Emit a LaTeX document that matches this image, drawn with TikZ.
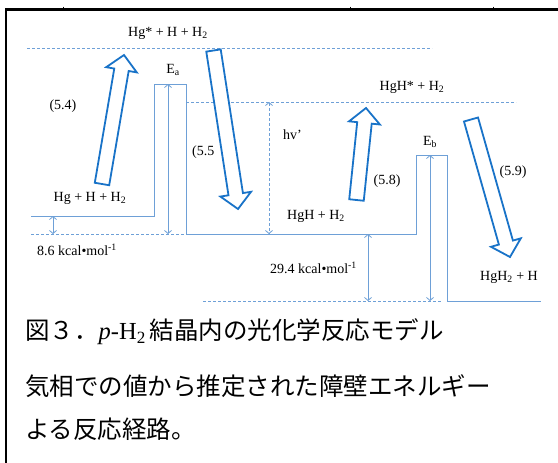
\documentclass[tikz,border=0pt]{standalone}
\usepackage{fontspec}
\setmainfont{Liberation Serif}
\newfontfamily\jpfont{Noto Sans CJK JP}
\usetikzlibrary{calc,arrows.meta}
\definecolor{thinblue}{RGB}{110,160,215}
\definecolor{arrblue}{RGB}{25,115,200}
\tikzset{
 lvl/.style={draw=thinblue, line width=0.9pt},
 dlvl/.style={draw=thinblue, line width=0.9pt, dash pattern=on 3pt off 2pt},
 dimar/.style={draw=thinblue, line width=0.8pt, {Straight Barb[length=3pt,width=7pt]}-{Straight Barb[length=3pt,width=7pt]}},
 blockar/.style={draw=arrblue, line width=1.8pt, line join=miter, fill=white},
 lab/.style={font=\fontsize{14}{16}\selectfont, inner sep=0pt},
 captext/.style={font=\jpfont\fontsize{24.5}{28}\selectfont, anchor=west, inner sep=0pt},
}
\newcommand\blockarr[2]{\draw[blockar] ($(#1)!7.3pt!90:(#2)$) -- ($(#2)!15pt!(#1)!7.3pt!-90:(#1)$) -- ($(#2)!15pt!(#1)!15.5pt!-90:(#1)$) -- (#2) -- ($(#2)!15pt!(#1)!15.5pt!90:(#1)$) -- ($(#2)!15pt!(#1)!7.3pt!90:(#1)$) -- ($(#1)!7.3pt!-90:(#2)$) -- cycle;}
\begin{document}
\begin{tikzpicture}[x=1pt,y=-1pt]
\useasboundingbox[fill=white] (0,0) rectangle (558,463);
% frame
\draw[line width=2.4pt] (6,463) -- (6,9.3) -- (558,9.3);
\foreach \tx in {63,350,493} \draw[line width=0.7pt] (\tx,6.5) -- (\tx,10);
% level coordinates
\coordinate (l0) at (31,216);
\coordinate (ea1) at (154,216);
\coordinate (ea2) at (154,84);
\coordinate (ea3) at (186,84);
\coordinate (ea4) at (186,234);
\coordinate (eb1) at (416,234);
\coordinate (eb2) at (416,155);
\coordinate (eb3) at (447,155);
\coordinate (eb4) at (447,301);
\coordinate (l5) at (541,301);
\draw[lvl] (l0) -- (ea1) -- (ea2) -- (ea3) -- (ea4) -- (eb1) -- (eb2) -- (eb3) -- (eb4) -- (l5);
% dashed levels
\coordinate (t1) at (27,48); \coordinate (t2) at (432,48);
\coordinate (s1) at (186,102); \coordinate (s2) at (516,102);
\coordinate (z1) at (31,234);
\coordinate (b1) at (203,301); \coordinate (b2) at (441,301);
\draw[dlvl] (t1) -- (t2);
\draw[dlvl] (s1) -- (s2);
\draw[dlvl] (z1) -- (ea4);
\draw[dlvl] (b1) -- (b2);
% dimension arrows
\coordinate (d1a) at (168,84); \coordinate (d1b) at (168,234);
\coordinate (d2a) at (53,216); \coordinate (d2b) at (53,234);
\coordinate (d3a) at (269,102); \coordinate (d3b) at (269,234);
\coordinate (d4a) at (368,234); \coordinate (d4b) at (368,301);
\coordinate (d5a) at (430,155); \coordinate (d5b) at (430,301);
\draw[dimar] (d1a) -- (d1b);
\draw[dimar] (d2a) -- (d2b);
\draw[dimar, dash pattern=on 3pt off 2pt] (d3a) -- (d3b);
\draw[dimar] (d4a) -- (d4b);
\draw[dimar] (d5a) -- (d5b);
% block arrows
\coordinate (a1s) at (102,184); \coordinate (a1e) at (124,55);
\coordinate (a2s) at (213.5,50.5); \coordinate (a2e) at (238,209);
\coordinate (a3s) at (356.5,200); \coordinate (a3e) at (366,108);
\coordinate (a4s) at (471,119.5); \coordinate (a4e) at (510,257);
\blockarr{a1s}{a1e}
\blockarr{a2s}{a2e}
\blockarr{a3s}{a3e}
\blockarr{a4s}{a4e}
% labels
\node[lab] (n1) at (168,33) {Hg* + H + H\textsubscript{2}};
\node[lab] (n2) at (412,87) {HgH* + H\textsubscript{2}};
\node[lab] (n3) at (173,70) {E\textsubscript{a}};
\node[lab] (n4) at (430,142) {E\textsubscript{b}};
\node[lab] (n5) at (63,106) {(5.4)};
\node[lab, anchor=west] (n6) at (192,152) {(5.5};
\node[lab, anchor=west] (n7) at (283,135) {hv’};
\node[lab] (n8) at (90,198) {Hg + H + H\textsubscript{2}};
\node[lab] (n9) at (316,216) {HgH + H\textsubscript{2}};
\node[lab] (n10) at (387,181) {(5.8)};
\node[lab] (n11) at (513,172) {(5.9)};
\node[lab, anchor=west] (n12) at (37,250) {8.6 kcal•mol\textsuperscript{-1}};
\node[lab, anchor=west] (n13) at (270,268) {29.4 kcal•mol\textsuperscript{-1}};
\node[lab] (n14) at (509,277) {HgH\textsubscript{2} + H};
% caption
\node[captext] (c1) at (25,332) {図３．{\rmfamily\itshape p}{\rmfamily -H\textsubscript{2}}\hspace{4pt}結晶内の光化学反応モデル};
\node[captext] (c2) at (25,386) {気相での値から推定された障壁エネルギー};
\node[captext] (c3) at (25,429) {よる反応経路。};
\end{tikzpicture}
\end{document}
